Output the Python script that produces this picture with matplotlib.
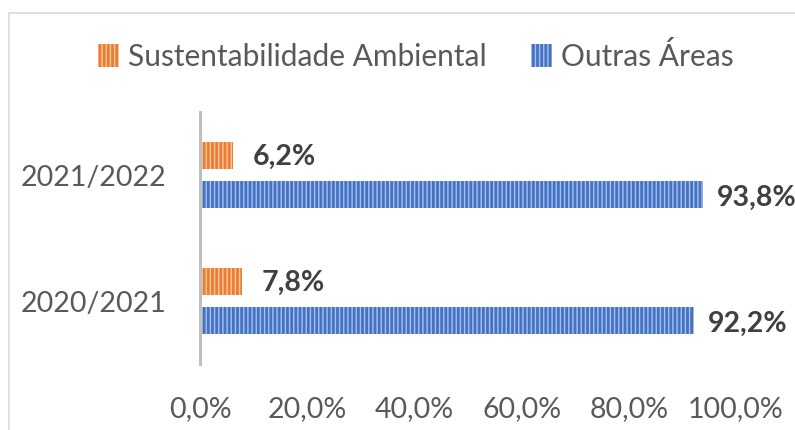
import matplotlib

matplotlib.use("Agg")
import matplotlib.pyplot as plt
from matplotlib.patches import Patch, Rectangle

plt.rcParams["font.family"] = ["Lato", "DejaVu Sans"]
plt.rcParams["hatch.linewidth"] = 1.0

categories = ["2020/2021", "2021/2022"]
series_names = ["Sustentabilidade Ambiental", "Outras Áreas"]
sustentabilidade = [7.8, 6.2]
outras = [92.2, 93.8]
x_ticks = [0, 20, 40, 60, 80, 100]

ORANGE = "#ED7D31"
ORANGE_LIGHT = "#F7C7A4"
BLUE = "#4472C4"
BLUE_LIGHT = "#A9C1EA"
TEXT = "#595959"
LABEL = "#404040"

W, H = 795, 431
fig = plt.figure(figsize=(W / 100, H / 100), dpi=100)
fig.patch.set_facecolor("white")

# chart frame (light gray, cut off at right/bottom like the source)
fig.add_artist(Rectangle((9 / W, -0.1), 1.2, 1 - 14 / H + 0.1,
                         transform=fig.transFigure, fill=False,
                         edgecolor="#d9d9d9", linewidth=1.2))

ax = fig.add_axes([200 / W, (H - 365) / H, 536 / W, 252 / H])

ypos = list(range(len(categories)))
off = 0.155
bh = 0.215
ax.barh([y + off for y in ypos], sustentabilidade, height=bh, color=ORANGE,
        edgecolor=ORANGE_LIGHT, linewidth=0, hatch="||||")
ax.barh([y - off for y in ypos], outras, height=bh, color=BLUE,
        edgecolor=BLUE_LIGHT, linewidth=0, hatch="||||")

for y, v in zip(ypos, sustentabilidade):
    ax.annotate(f"{v:.1f}%".replace(".", ","), (v, y + off), xytext=(14, 0),
                textcoords="offset points", ha="left", va="center",
                fontsize=20.5, fontweight="bold", color=LABEL)
for y, v in zip(ypos, outras):
    ax.annotate(f"{v:.1f}%".replace(".", ","), (v, y - off - 0.02), xytext=(10, 0),
                textcoords="offset points", ha="left", va="center",
                fontsize=20.5, fontweight="bold", color=LABEL)

ax.set_xlim(0, 100)
ax.set_ylim(-0.5, len(categories) - 0.5)
ax.set_xticks(x_ticks)
ax.set_xticklabels([f"{t:.1f}%".replace(".", ",") for t in x_ticks])
ax.set_yticks(ypos)
ax.set_yticklabels(categories)
ax.tick_params(axis="both", length=0, labelsize=20.5, labelcolor=TEXT)
ax.tick_params(axis="x", pad=22)
ax.tick_params(axis="y", pad=24)
for s in ["top", "right", "bottom"]:
    ax.spines[s].set_visible(False)
ax.spines["left"].set_color("#bfbfbf")
ax.spines["left"].set_linewidth(2.2)
ax.set_facecolor("none")

handles = [
    Patch(facecolor=ORANGE, edgecolor=ORANGE_LIGHT, linewidth=0, hatch="||||"),
    Patch(facecolor=BLUE, edgecolor=BLUE_LIGHT, linewidth=0, hatch="||||"),
]
leg = fig.legend(handles, series_names, loc="center", bbox_to_anchor=(416 / W, 1 - 57 / H),
                 ncol=2, frameon=False, fontsize=21.5, handlelength=0.7, handleheight=0.8,
                 handletextpad=0.3, columnspacing=1.5, borderpad=0)
for t in leg.get_texts():
    t.set_color(TEXT)

fig.savefig("out.png", dpi=100)
